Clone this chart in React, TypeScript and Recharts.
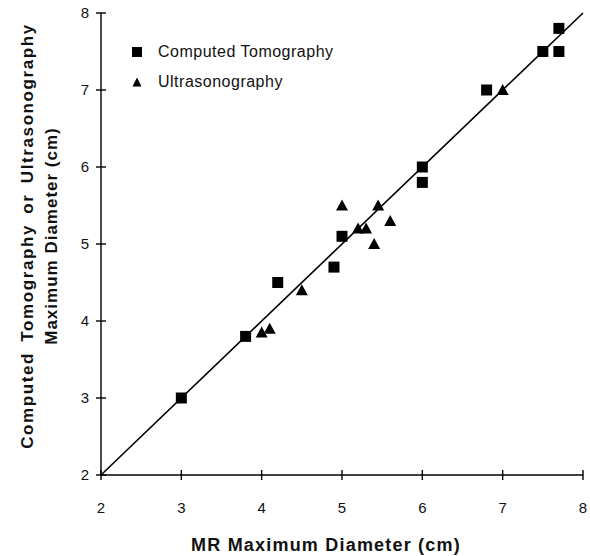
import { Legend, ReferenceLine, Scatter, ScatterChart, XAxis, YAxis } from 'recharts'

const axisTicks = [2, 3, 4, 5, 6, 7, 8]

// Computed Tomography vs MR
const ctMr = [3.0, 3.8, 4.2, 4.9, 5.0, 6.0, 6.0, 6.8, 7.5, 7.7, 7.7]
const ctMax = [3.0, 3.8, 4.5, 4.7, 5.1, 6.0, 5.8, 7.0, 7.5, 7.5, 7.8]

// Ultrasonography vs MR
const usMr = [4.0, 4.1, 4.5, 5.0, 5.2, 5.3, 5.4, 5.45, 5.6, 7.0]
const usMax = [3.85, 3.9, 4.4, 5.5, 5.2, 5.2, 5.0, 5.5, 5.3, 7.0]

// line of identity
const lineEnds = [2, 8]

const ctData = ctMr.map((x, i) => ({ x, y: ctMax[i] }))
const usData = usMr.map((x, i) => ({ x, y: usMax[i] }))

const font = '"Liberation Sans", Arial, Helvetica, sans-serif'

const Square = (props: any) => {
  const { cx, cy } = props
  return <rect x={cx - 5.5} y={cy - 5.5} width={11} height={11} fill='#000' />
}

const Triangle = (props: any) => {
  const { cx, cy } = props
  return (
    <polygon
      points={`${cx},${cy - 6} ${cx - 6},${cy + 5} ${cx + 6},${cy + 5}`}
      fill='#000'
    />
  )
}

const renderLegend = (props: any) => {
  const { payload } = props
  return (
    <div style={{ fontFamily: font, fontSize: 16, color: '#111', letterSpacing: 0.5 }}>
      {payload.map((entry: any) => (
        <div
          key={entry.value}
          style={{ display: 'flex', alignItems: 'center', height: 30 }}
        >
          <svg width={12} height={12} style={{ marginRight: 15 }}>
            {entry.value === 'Computed Tomography' ? (
              <rect x={1} y={1} width={10} height={10} fill='#000' />
            ) : (
              <polygon points='6,1.5 1.5,10.5 10.5,10.5' fill='#000' />
            )}
          </svg>
          <span>{entry.value}</span>
        </div>
      ))}
    </div>
  )
}

const renderYTitle = () => (
  <g style={{ fontFamily: font, fontSize: 17, fontWeight: 'bold' }} fill='#111'>
    <text
      x={27}
      y={236}
      transform='rotate(-90, 27, 236)'
      textAnchor='middle'
      dominantBaseline='central'
      style={{ letterSpacing: 1.6, wordSpacing: 4 }}
    >
      Computed Tomography or Ultrasonography
    </text>
    <text
      x={51}
      y={236}
      transform='rotate(-90, 51, 236)'
      textAnchor='middle'
      dominantBaseline='central'
      style={{ letterSpacing: 1 }}
    >
      Maximum Diameter (cm)
    </text>
  </g>
)

const renderXTitle = () => (
  <text
    x={326}
    y={551}
    textAnchor='middle'
    fill='#111'
    style={{ fontFamily: font, fontSize: 18, fontWeight: 'bold', letterSpacing: 1.2 }}
  >
    MR Maximum Diameter (cm)
  </text>
)

export default function App() {
  return (
    <div style={{ position: 'absolute', left: 0, top: 0, background: '#fff' }}>
      <ScatterChart
        width={590}
        height={556}
        margin={{ top: 13, right: 7, bottom: 21, left: 61 }}
      >
        <XAxis
          type='number'
          dataKey='x'
          domain={[2, 8]}
          ticks={axisTicks}
          height={60}
          tickSize={10}
          tickMargin={17}
          axisLine={{ stroke: '#000', strokeWidth: 1.4 }}
          tickLine={{ stroke: '#000', strokeWidth: 1.4, transform: 'translate(0,-5)' }}
          tick={{ fill: '#111', fontSize: 15, fontFamily: font }}
          label={renderXTitle}
        />
        <YAxis
          type='number'
          dataKey='y'
          domain={[2, 8]}
          ticks={axisTicks}
          width={40}
          tickSize={10}
          tickMargin={2}
          axisLine={{ stroke: '#000', strokeWidth: 1.4 }}
          tickLine={{ stroke: '#000', strokeWidth: 1.4, transform: 'translate(5,0)' }}
          tick={{ fill: '#111', fontSize: 15, fontFamily: font }}
          label={renderYTitle}
        />
        <ReferenceLine
          segment={[
            { x: lineEnds[0], y: lineEnds[0] },
            { x: lineEnds[1], y: lineEnds[1] },
          ]}
          stroke='#000'
          strokeWidth={1.6}
          ifOverflow='visible'
        />
        <Scatter
          name='Computed Tomography'
          data={ctData}
          shape={Square}
          isAnimationActive={false}
        />
        <Scatter
          name='Ultrasonography'
          data={usData}
          shape={Triangle}
          isAnimationActive={false}
        />
        <Legend
          layout='vertical'
          align='center'
          verticalAlign='middle'
          content={renderLegend}
          wrapperStyle={{ position: 'absolute', left: 131, top: 37, width: 'auto' }}
        />
      </ScatterChart>
    </div>
  )
}
